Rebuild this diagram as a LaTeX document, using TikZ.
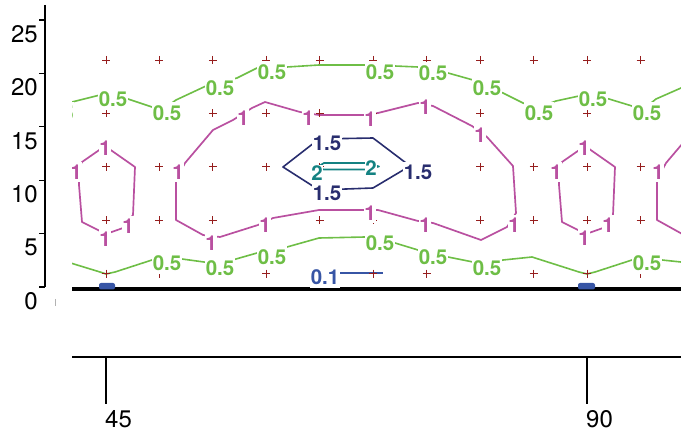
\documentclass[tikz,border=0pt]{standalone}
\usepackage{fontspec}
\setmainfont{TeX Gyre Heros}
\definecolor{cgreen}{RGB}{110,190,70}
\definecolor{cmag}{RGB}{185,80,160}
\definecolor{cnavy}{RGB}{40,45,110}
\definecolor{cteal}{RGB}{20,130,130}
\definecolor{cblue}{RGB}{55,85,165}
\definecolor{cred}{RGB}{150,30,30}
\newcommand\labfont{\fontsize{20.5}{24}\selectfont\bfseries}
\newcommand\tickfont{\fontsize{24}{28}\selectfont}
\tikzset{
  lab/.style={fill=white, inner xsep=0.5pt, inner ysep=3pt, font=\labfont},
  ticklab/.style={inner sep=0pt, font=\tickfont, text=black},
  pmark/.style={draw=cred, line width=0.9pt},
  axisline/.style={draw=black, line width=1.3pt},
  lgreen/.style={draw=cgreen, line width=1.6pt, line join=round},
  lmag/.style={draw=cmag, line width=1.7pt, line join=round},
  lnavy/.style={draw=cnavy, line width=1.6pt, line join=round},
  lteal/.style={draw=cteal, line width=1.7pt, line join=round},
  lblue/.style={draw=cblue, line width=1.5pt},
}
\begin{document}
\begin{tikzpicture}[x=1pt,y=-1pt]
\useasboundingbox (0,0) rectangle (681,433);
% y axis
\draw[axisline] (45,5) -- (45,287);
\foreach \t in {20,73.4,126.8,180.2,233.6,287}
  \draw[axisline] (39,\t) -- (45,\t);
\node[ticklab, anchor=east] (y25) at (38,34) {25};
\node[ticklab, anchor=east] (y20) at (38,87.4) {20};
\node[ticklab, anchor=east] (y15) at (38,140.8) {15};
\node[ticklab, anchor=east] (y10) at (38,194.2) {10};
\node[ticklab, anchor=east] (y5) at (38,247.6) {5};
\node[ticklab, anchor=east] (y0) at (38,301) {0};
\draw[gray!60, line width=0.8pt] (55,299) -- (55,306);
% x axis
\draw[axisline] (72,357) -- (681,357);
\draw[axisline] (106,357) -- (106,404);
\draw[axisline] (587,357) -- (587,404);
\node[ticklab, anchor=north west] (x45) at (105,410) {45};
\node[ticklab, anchor=north west] (x90) at (586,410) {90};
% baseline
\draw[black, line width=3.6pt] (72,289) -- (681,289);
\fill[cblue, rounded corners=2pt] (99,283) rectangle (115,289.5);
\fill[cblue, rounded corners=2pt] (578,283) rectangle (595,289.5);
\begin{scope}
\clip (72,0) rectangle (681,433);
% upper green 0.5
\draw[lgreen] (42,103) -- (72,102) -- (100,95) -- (112,94) -- (128,99) -- (152,107) -- (165,108) -- (176,100) -- (206,86) -- (237,78) -- (257,68) -- (287,67) -- (319,65) -- (365,65) -- (395,66) -- (418,67) -- (448,73) -- (473,80) -- (503,93) -- (523,103) -- (537,108) -- (556,101) -- (579,96) -- (593,95) -- (609,99) -- (632,106) -- (645,108) -- (656,99) -- (681,88) -- (700,85);
% lower green 0.5
\draw[lgreen] (51,257) -- (100,272) -- (106,274) -- (115,272) -- (152,260) -- (182,259) -- (204,262) -- (216,264) -- (236,259) -- (257,253) -- (287,247) -- (319,238) -- (365,237) -- (395,243) -- (418,250) -- (448,257) -- (473,262) -- (488,264) -- (503,260) -- (532,257) -- (579,272) -- (587,274) -- (595,272) -- (632,260) -- (662,260) -- (681,262);
% magenta big ring and its copy
\foreach \s in {0,481}{
\draw[lmag, xshift=\s pt] (176,180) -- (185,163) -- (213,130) -- (233,120) -- (252,108) -- (265,102) -- (300,112) -- (319,115) -- (363,115) -- (378,113) -- (418,103) -- (433,106) -- (472,126) -- (487,137) -- (513,166) -- (516,213) -- (507,227) -- (481,240) -- (433,223) -- (418,221) -- (378,210) -- (319,210) -- (273,218) -- (258,225) -- (220,237) -- (203,235) -- (176,220) -- cycle;
}
% magenta small rings
\foreach \s in {0,480}{
\draw[lmag, xshift=\s pt] (105,146) -- (135,167) -- (133,215) -- (123,228) -- (106,234) -- (82,222) -- (79,185) -- (79,168) -- (82,162) -- cycle;
}
% navy 1.5
\draw[lnavy] (283,167) -- (319,139) -- (373,138) -- (410,166) -- (373,188) -- (319,190) -- cycle;
% teal 2
\draw[lteal] (316,168) -- (324,163) -- (366,163) -- (379,166.5) -- (366,169.5) -- (324,169.5) -- cycle;
% blue 0.1
\draw[lblue] (330,273) -- (383,273);
% markers
\foreach \mx in {106,159.45,212.9,266.35,319.8,373.25,426.7,480.15,533.6,587.05,640.5}
  \foreach \my in {60,113.4,166.8,220.2,273.6}
    \draw[pmark] ({\mx-4},\my) -- ({\mx+4},\my) (\mx,{\my-4}) -- (\mx,{\my+4});
% green labels
\node[lab, text=cgreen] (g0) at (59.5,113) {0.5};
\node[lab, text=cgreen] (g1) at (113,99) {0.5};
\node[lab, text=cgreen] (g2) at (167,113) {0.5};
\node[lab, text=cgreen] (g3) at (220,88) {0.5};
\node[lab, text=cgreen] (g4) at (272,72) {0.5};
\node[lab, text=cgreen] (g5) at (380,72) {0.5};
\node[lab, text=cgreen] (g6) at (433,73) {0.5};
\node[lab, text=cgreen] (g7) at (487,88) {0.5};
\node[lab, text=cgreen] (g8) at (539,113) {0.5};
\node[lab, text=cgreen] (g9) at (593,99) {0.5};
\node[lab, text=cgreen] (g10) at (647,113) {0.5};
\node[lab, text=cgreen] (h1) at (167,263) {0.5};
\node[lab, text=cgreen] (h2) at (220,268) {0.5};
\node[lab, text=cgreen] (h3) at (272,257) {0.5};
\node[lab, text=cgreen] (h4) at (380,243) {0.5};
\node[lab, text=cgreen] (h5) at (433,257) {0.5};
\node[lab, text=cgreen] (h6) at (487,268) {0.5};
\node[lab, text=cgreen] (h7) at (647,263) {0.5};
% magenta labels
\node[lab, text=cmag] (m1) at (76,172) {1};
\node[lab, text=cmag] (m2) at (105,148) {1};
\node[lab, text=cmag] (m3) at (128,226) {1};
\node[lab, text=cmag] (m4) at (105,239) {1};
\node[lab, text=cmag] (m5) at (178,172) {1};
\node[lab, text=cmag] (m6) at (243,118) {1};
\node[lab, text=cmag] (m7) at (308,118) {1};
\node[lab, text=cmag] (m8) at (370,119) {1};
\node[lab, text=cmag] (m9) at (425,107) {1};
\node[lab, text=cmag] (m10) at (480,135) {1};
\node[lab, text=cmag] (m11) at (514,225) {1};
\node[lab, text=cmag] (m12) at (425,225) {1};
\node[lab, text=cmag] (m13) at (370,213) {1};
\node[lab, text=cmag] (m14) at (265,225) {1};
\node[lab, text=cmag] (m15) at (211,243) {1};
\node[lab, text=cmag] (m16) at (556,172) {1};
\node[lab, text=cmag] (m17) at (584,148) {1};
\node[lab, text=cmag] (m18) at (608,225) {1};
\node[lab, text=cmag] (m19) at (584,238) {1};
\node[lab, text=cmag] (m20) at (658,172) {1};
% navy, teal, blue labels
\node[lab, text=cnavy] (n1) at (327,143) {1.5};
\node[lab, text=cnavy] (n2) at (418,172) {1.5};
\node[lab, text=cnavy] (n3) at (327,193.5) {1.5};
\node[lab, text=cteal, inner ysep=1pt] (t1) at (317,173) {2};
\node[lab, text=cteal, inner ysep=1pt] (t2) at (371,168) {2};
\node[lab, text=cblue] (b1) at (325,277) {0.1};
\end{scope}
\end{tikzpicture}
\end{document}
